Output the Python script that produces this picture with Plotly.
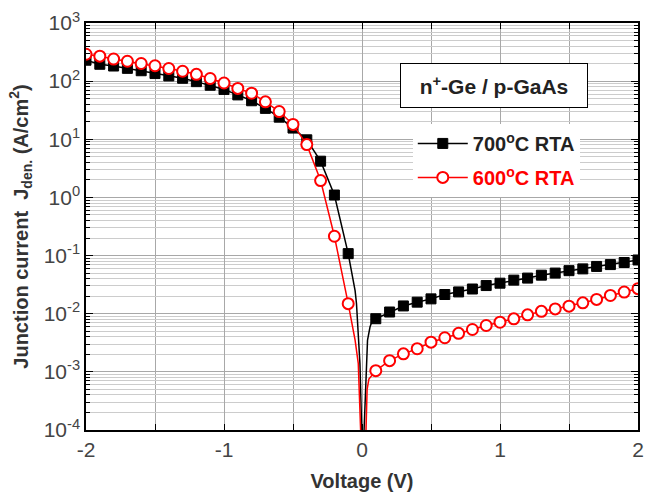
import plotly.graph_objects as go

# ---------------- data ----------------
voltage_neg = [-2.0, -1.9, -1.8, -1.7, -1.6, -1.5, -1.4, -1.3, -1.2, -1.1,
               -1.0, -0.9, -0.8, -0.7, -0.6, -0.5, -0.4, -0.3, -0.2, -0.1]
voltage_pos = [0.1, 0.2, 0.3, 0.4, 0.5, 0.6, 0.7, 0.8, 0.9, 1.0,
               1.1, 1.2, 1.3, 1.4, 1.5, 1.6, 1.7, 1.8, 1.9, 2.0]

j700_neg = [229, 195, 182, 166, 151, 135, 123, 112, 98, 85,
            72, 58, 46, 34, 24, 15.6, 9.8, 4.2, 1.1, 0.108]
j700_pos = [0.0082, 0.0107, 0.0136, 0.0158, 0.018, 0.0214, 0.0237, 0.0266, 0.0305, 0.0335,
            0.0378, 0.041, 0.046, 0.050, 0.055, 0.059, 0.065, 0.070, 0.076, 0.084]

j600_neg = [290, 269, 240, 220, 201, 184, 165, 148, 131, 111,
            93, 75, 62, 44, 30, 18, 8.1, 1.95, 0.215, 0.0149]
j600_pos = [0.00105, 0.00156, 0.00204, 0.0025, 0.00324, 0.00386, 0.0046, 0.00535, 0.00627, 0.00714,
            0.00817, 0.00956, 0.011, 0.0121, 0.0135, 0.0154, 0.0176, 0.0206, 0.0236, 0.027]

# dense points of the measured curves around 0 V (the |J| dip)
dip700_v = [-0.1, -0.05, -0.04, -0.015, -0.002, 0.0, 0.013, 0.015, 0.04, 0.058, 0.07, 0.1]
dip700_j = [0.108, 0.025, 0.015, 0.0014, 0.0001, 1e-7, 1e-7, 0.0001, 0.0035, 0.0059, 0.0071, 0.0082]
dip600_v = [-0.1, -0.05, -0.027, -0.01, 0.0, 0.027, 0.029, 0.037, 0.05, 0.07, 0.1]
dip600_j = [0.0149, 0.0035, 0.0014, 0.0001, 1e-7, 1e-7, 0.0001, 0.0005, 0.00075, 0.00087, 0.00105]

x_ticks = [-2, -1, 0, 1, 2]
y_exponents = [-4, -3, -2, -1, 0, 1, 2, 3]

# ---------------- figure ----------------
BLACK = "#000000"
RED = "#ff0000"
FONT = "Liberation Sans, Arial, sans-serif"

v_all = voltage_neg + [0.0] + voltage_pos
j700_all = j700_neg + [None] + j700_pos
j600_all = j600_neg + [None] + j600_pos

fig = go.Figure()

fig.add_trace(go.Scatter(x=dip700_v, y=dip700_j, mode="lines",
                         line=dict(color=BLACK, width=1.5), showlegend=False,
                         hoverinfo="skip"))
fig.add_trace(go.Scatter(x=v_all, y=j700_all, mode="lines+markers",
                         connectgaps=False,
                         name="<b>700<sup>o</sup>C RTA</b>",
                         legendgroup="a",
                         line=dict(color=BLACK, width=1.5),
                         marker=dict(symbol="square", size=10, color=BLACK,
                                     line=dict(color=BLACK, width=1))))
fig.add_trace(go.Scatter(x=dip600_v, y=dip600_j, mode="lines",
                         line=dict(color=RED, width=1.5), showlegend=False,
                         hoverinfo="skip"))
fig.add_trace(go.Scatter(x=v_all, y=j600_all, mode="lines+markers",
                         connectgaps=False,
                         name="<b><span style='color:#ff0000'>600<sup>o</sup>C RTA</span></b>",
                         legendgroup="b",
                         line=dict(color=RED, width=1.5),
                         marker=dict(symbol="circle", size=11, color="white",
                                     line=dict(color=RED, width=2))))

axis_font = dict(family=FONT, size=21, color="#444444")
title_font = dict(family=FONT, size=20, color="#333333")

fig.update_xaxes(
    range=[-2, 2], tickvals=x_ticks, ticktext=[str(t) for t in x_ticks],
    ticks="inside", ticklen=6, tickcolor=BLACK, tickwidth=1,
    showline=True, linecolor=BLACK, linewidth=1.5, mirror="allticks",
    showgrid=True, gridcolor="#a8a8a8", gridwidth=1,
    minor=dict(dtick=0.5, ticks="inside", ticklen=6, tickcolor=BLACK,
               showgrid=True, gridcolor="#a8a8a8", gridwidth=1),
    zeroline=False, tickfont=axis_font, automargin=False,
    title=dict(text="<b>Voltage (V)</b>", font=title_font, standoff=16),
)
fig.update_yaxes(
    type="log", range=[-4, 3],
    tickvals=[10 ** e for e in y_exponents],
    ticktext=["10<sup>%d</sup>" % e for e in y_exponents],
    ticks="inside", ticklen=7, tickcolor=BLACK, tickwidth=1,
    showline=True, linecolor=BLACK, linewidth=1.5, mirror="allticks",
    showgrid=True, gridcolor="#a8a8a8", gridwidth=1,
    minor=dict(dtick="D1", ticks="inside", ticklen=4, tickcolor=BLACK,
               showgrid=True, gridcolor="#cccccc", gridwidth=1),
    zeroline=False, tickfont=axis_font, automargin=False,
    title=dict(text="<b>Junction current  J<sub>den.</sub> (A/cm<sup>2</sup>)</b>",
               font=title_font, standoff=10),
)

fig.add_annotation(
    x=0.957, y=1.93, xref="x", yref="y",
    text="<b>n<sup>+</sup>-Ge / p-GaAs</b>",
    showarrow=False, font=dict(family=FONT, size=21, color="#222222"),
    bgcolor="white", bordercolor=BLACK, borderwidth=1, borderpad=0,
    width=186, height=43,
)

fig.update_layout(
    width=650, height=492,
    margin=dict(l=86, r=12, t=23, b=62),
    paper_bgcolor="white", plot_bgcolor="white",
    showlegend=True,
    legend=dict(x=0.592, y=0.752, xanchor="left", yanchor="top",
                bgcolor="white", borderwidth=0,
                font=dict(family=FONT, size=20, color="#222222"),
                tracegroupgap=5, itemwidth=50),
)

fig.write_html("out.html")
